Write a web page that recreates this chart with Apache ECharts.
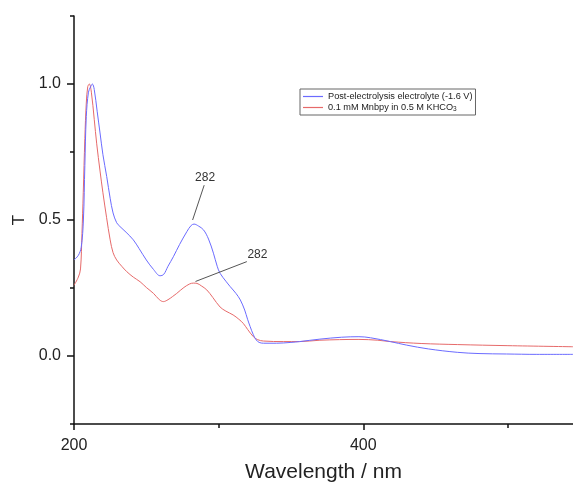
<!DOCTYPE html>
<html>
<head>
<meta charset="utf-8">
<script src="https://cdn.jsdelivr.net/npm/echarts@6/dist/echarts.min.js"></script>
<style>
  html, body { margin: 0; padding: 0; background: #fff; }
  #chart { width: 573px; height: 486px; }
</style>
</head>
<body>
<div id="chart"></div>
<script>
// UV-Vis spectra, normalised transmittance vs wavelength
const wavelengthPost = [200, 203, 205, 206.5, 207.5, 208.5, 210, 211.5, 212.7, 214, 216, 218, 220, 222.6, 225, 227, 229.5, 231.8, 236, 241, 245, 250, 255, 259.5, 262, 265, 268.7, 273, 278, 281, 283, 286, 289.5, 293, 296.4, 299, 301, 305, 308, 312, 315, 318, 320, 321.8, 324, 326, 328, 331, 340, 350, 356, 370, 385, 397, 405, 418.7, 430, 445, 465, 480, 499, 520, 545];
const valuesPost = [0.353, 0.37, 0.40, 0.50, 0.70, 0.88, 0.97, 0.99, 1.0, 0.98, 0.90, 0.82, 0.74, 0.66, 0.58, 0.526, 0.49, 0.476, 0.455, 0.427, 0.395, 0.353, 0.318, 0.295, 0.30, 0.33, 0.365, 0.41, 0.457, 0.48, 0.485, 0.478, 0.464, 0.43, 0.378, 0.33, 0.304, 0.275, 0.255, 0.23, 0.206, 0.169, 0.135, 0.108, 0.078, 0.059, 0.05, 0.047, 0.047, 0.05, 0.053, 0.062, 0.069, 0.071, 0.067, 0.053, 0.04, 0.026, 0.0135, 0.009, 0.0074, 0.006, 0.006];

const wavelengthMn = [200, 203, 204.5, 205.5, 206.4, 207.5, 208.5, 209.5, 210.6, 212, 214, 215.7, 218, 220, 222.5, 225, 227, 229.5, 233, 236.5, 241, 245.7, 250, 255, 259, 261.8, 265, 268, 271, 276, 280, 282.5, 285, 288, 291.8, 296, 301, 305, 310, 314, 317, 320, 324, 327, 331, 345, 356, 370, 397, 410, 418.7, 440, 465, 500, 545];
const valuesMn = [0.26, 0.29, 0.32, 0.45, 0.60, 0.80, 0.93, 0.99, 1.0, 0.97, 0.87, 0.78, 0.68, 0.60, 0.51, 0.427, 0.38, 0.353, 0.33, 0.31, 0.29, 0.273, 0.252, 0.23, 0.207, 0.2, 0.207, 0.218, 0.23, 0.252, 0.265, 0.268, 0.267, 0.258, 0.243, 0.215, 0.18, 0.165, 0.151, 0.135, 0.12, 0.098, 0.071, 0.06, 0.055, 0.053, 0.053, 0.058, 0.061, 0.058, 0.053, 0.046, 0.042, 0.038, 0.034];

const seriesNames = ['Post-electrolysis electrolyte (-1.6 V)', '0.1 mM Mnbpy in 0.5 M KHCO3'];
const peakWavelength = 282;
const peakPost = 0.485;
const peakMn = 0.268;

const xMajorTicks = [200, 400];
const xMinorTicks = [300, 500];
const yMajorTicks = [0, 0.5, 1.0];
const yMinorTicks = [-0.25, 0.25, 0.75, 1.25];

const FONT = '"Liberation Sans", Arial, sans-serif';
const BLUE = '#6b6bff';
const RED = '#e66a6a';

const zip = (xs, ys) => xs.map((x, i) => [x, ys[i]]);

const chart = echarts.init(document.getElementById('chart'), null, { renderer: 'canvas' });

const annotation = (start, end, textAt) => ({
  markLine: {
    silent: true,
    symbol: ['none', 'none'],
    lineStyle: { color: '#555', width: 1, type: 'solid' },
    label: { show: false },
    data: [[{ coord: start }, { coord: end }]]
  },
  markPoint: {
    silent: true,
    symbol: 'circle',
    symbolSize: 0,
    label: {
      show: true, position: 'inside', formatter: String(peakWavelength),
      color: '#333', fontSize: 12, fontFamily: FONT
    },
    data: [{ coord: textAt }]
  }
});

chart.setOption({
  animation: false,
  backgroundColor: '#fff',
  textStyle: { fontFamily: FONT },
  grid: { left: 74, right: 0, top: 16, bottom: 62, containLabel: false, outerBoundsMode: 'none' },
  legend: {
    orient: 'vertical',
    left: 300, top: 89,
    icon: 'rect',
    itemWidth: 20, itemHeight: 1.2, itemGap: 2,
    padding: [3, 3, 2, 3],
    borderColor: '#666', borderWidth: 1,
    textStyle: {
      fontSize: 9.2, color: '#222', fontFamily: FONT,
      rich: {
        b: { fontSize: 9.2, color: '#222', fontFamily: FONT },
        s: { fontSize: 6.5, color: '#222', fontFamily: FONT, verticalAlign: 'bottom', padding: [4, 0, 0, 0] }
      }
    },
    formatter: name => name === seriesNames[1]
      ? '{b|0.1 mM Mnbpy in 0.5 M KHCO}{s|3}'
      : name,
    data: seriesNames
  },
  xAxis: [{
    type: 'value', min: 200, max: 545,
    name: 'Wavelength / nm', nameLocation: 'middle', nameGap: 38,
    nameTextStyle: { fontSize: 21, color: '#222', fontFamily: FONT },
    axisLine: { onZero: false, lineStyle: { color: '#111', width: 1.5 } },
    axisTick: { show: true, length: 6, customValues: xMajorTicks, lineStyle: { color: '#111', width: 1.5 } },
    axisLabel: { customValues: xMajorTicks, fontSize: 16, color: '#222', margin: 14, fontFamily: FONT },
    splitLine: { show: false }
  }, {
    type: 'value', min: 200, max: 545, position: 'bottom',
    axisLine: { show: false, onZero: false },
    axisTick: { show: true, length: 4, customValues: xMinorTicks, lineStyle: { color: '#111', width: 1.5 } },
    axisLabel: { show: true, customValues: xMinorTicks, formatter: () => '' },
    splitLine: { show: false }
  }],
  yAxis: [{
    type: 'value', min: -0.25, max: 1.25,
    name: 'T', nameLocation: 'middle', nameGap: 46, nameRotate: 90,
    nameTextStyle: { fontSize: 17, color: '#222', fontFamily: FONT },
    axisLine: { show: true, onZero: false, lineStyle: { color: '#111', width: 1.5 } },
    axisTick: { show: true, length: 7, customValues: yMajorTicks, lineStyle: { color: '#111', width: 1.5 } },
    axisLabel: { customValues: yMajorTicks, fontSize: 16, color: '#222', margin: 13,
      formatter: v => v.toFixed(1), fontFamily: FONT },
    splitLine: { show: false }
  }, {
    type: 'value', min: -0.25, max: 1.25, position: 'left',
    axisLine: { show: false, onZero: false },
    axisTick: { show: true, length: 4, customValues: yMinorTicks, lineStyle: { color: '#111', width: 1.5 } },
    axisLabel: { show: true, customValues: yMinorTicks, formatter: () => '' },
    splitLine: { show: false }
  }],
  series: [
    Object.assign({
      name: seriesNames[0], type: 'line', symbol: 'none', smooth: 0.35,
      data: zip(wavelengthPost, valuesPost),
      lineStyle: { color: BLUE, width: 1 }, itemStyle: { color: BLUE },
      z: 3
    }, annotation([peakWavelength, peakPost + 0.015], [290, 0.628], [290.6, 0.655])),
    Object.assign({
      name: seriesNames[1], type: 'line', symbol: 'none', smooth: 0.35,
      data: zip(wavelengthMn, valuesMn),
      lineStyle: { color: RED, width: 1 }, itemStyle: { color: RED },
      z: 2
    }, annotation([peakWavelength + 2, peakMn + 0.006], [319.5, 0.347], [326.8, 0.372]))
  ]
});
</script>
</body>
</html>
